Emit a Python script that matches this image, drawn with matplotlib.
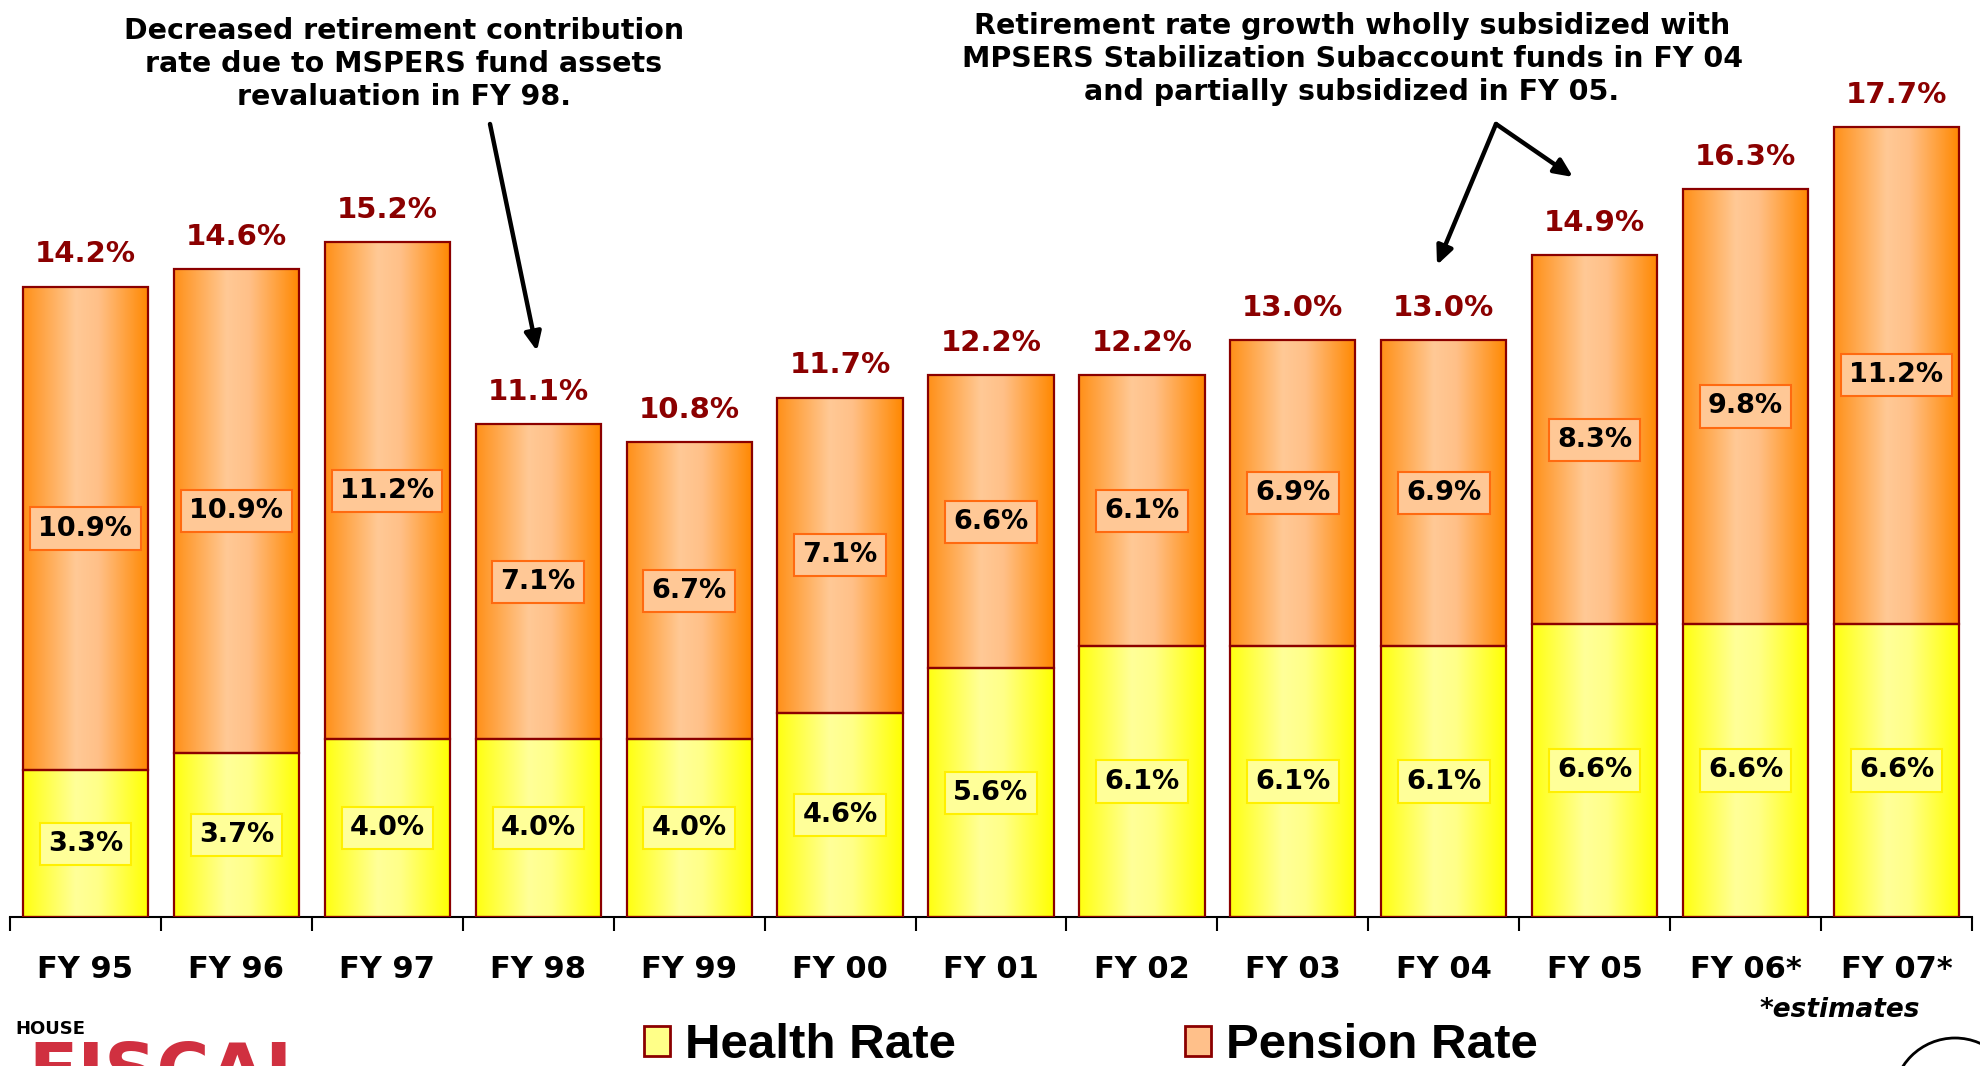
import numpy as np
import matplotlib
matplotlib.use("Agg")
import matplotlib.pyplot as plt
from matplotlib.colors import LinearSegmentedColormap
from matplotlib.patches import Patch, Circle

categories = ["FY 95", "FY 96", "FY 97", "FY 98", "FY 99", "FY 00", "FY 01",
              "FY 02", "FY 03", "FY 04", "FY 05", "FY 06*", "FY 07*"]
health = [3.3, 3.7, 4.0, 4.0, 4.0, 4.6, 5.6, 6.1, 6.1, 6.1, 6.6, 6.6, 6.6]
pension = [10.9, 10.9, 11.2, 7.1, 6.7, 7.1, 6.6, 6.1, 6.9, 6.9, 8.3, 9.8, 11.2]
totals = [14.2, 14.6, 15.2, 11.1, 10.8, 11.7, 12.2, 12.2, 13.0, 13.0, 14.9, 16.3, 17.7]

W, H = 1980, 1066
fig = plt.figure(figsize=(W / 100, H / 100), dpi=100)
ax = fig.add_axes([10 / W, 149 / H, 1962 / W, 888 / H])

x = np.arange(len(categories))
bw = 0.83
edge = "#8B0000"
bars_h = ax.bar(x, health, bw, facecolor="none", edgecolor=edge, lw=1.6, zorder=3)
bars_p = ax.bar(x, pension, bw, bottom=health, facecolor="none", edgecolor=edge, lw=1.6, zorder=3)

cm_p = LinearSegmentedColormap.from_list("p", [(0, "#FF9018"), (0.42, "#FFC996"), (0.6, "#FFC088"), (1, "#FF8800")])
cm_h = LinearSegmentedColormap.from_list("h", [(0, "#FFFF10"), (0.42, "#FFFF99"), (0.6, "#FFFF88"), (1, "#FFFF00")])
grad = np.linspace(0, 1, 256).reshape(1, -1)
for bars, cm in ((bars_h, cm_h), (bars_p, cm_p)):
    for r in bars:
        x0, y0, w, h = r.get_x(), r.get_y(), r.get_width(), r.get_height()
        ax.imshow(grad, cmap=cm, extent=[x0, x0 + w, y0, y0 + h], aspect="auto", zorder=2,
                  interpolation="bilinear")

ax.set_xlim(-0.5, len(categories) - 0.5)
ax.set_ylim(0, 20)

# segment labels
for i in range(len(categories)):
    ax.text(x[i], health[i] / 2, f"{health[i]:.1f}%", ha="center", va="center",
            fontsize=19.5, fontweight="bold", color="black", zorder=5,
            bbox=dict(boxstyle="square,pad=0.3", facecolor="#FFFF99", edgecolor="#FFF000", lw=1.5))
    ax.text(x[i], health[i] + pension[i] / 2, f"{pension[i]:.1f}%", ha="center", va="center",
            fontsize=19.5, fontweight="bold", color="black", zorder=5,
            bbox=dict(boxstyle="square,pad=0.3", facecolor="#FFC896", edgecolor="#FF6A10", lw=1.5))
    ax.annotate(f"{totals[i]:.1f}%", (x[i], health[i] + pension[i]), xytext=(0, 13),
                textcoords="offset points", ha="center", va="bottom",
                fontsize=21, fontweight="bold", color="#8B0000", zorder=5, annotation_clip=False)

# axes styling
for s in ("left", "right", "top"):
    ax.spines[s].set_visible(False)
ax.spines["bottom"].set_linewidth(1.5)
ax.set_yticks([])
ax.set_xticks(x)
ax.set_xticklabels(categories, fontsize=22, fontweight="bold")
ax.tick_params(axis="x", which="major", length=0, pad=27)
ax.set_xticks(np.arange(-0.5, len(categories), 1), minor=True)
ax.tick_params(axis="x", which="minor", length=10, width=1.5, direction="out")

# annotations
fig.text(404 / W, 1 - 64 / H, "Decreased retirement contribution\nrate due to MSPERS fund assets\nrevaluation in FY 98.",
         ha="center", va="center", fontsize=20.5, fontweight="bold", linespacing=1.22)
fig.text(1352 / W, 1 - 59 / H, "Retirement rate growth wholly subsidized with\nMPSERS Stabilization Subaccount funds in FY 04\nand partially subsidized in FY 05.",
         ha="center", va="center", fontsize=20.5, fontweight="bold", linespacing=1.22)

ap = dict(arrowstyle="-|>,head_length=1.1,head_width=0.5", color="black", lw=3.2, shrinkA=0, shrinkB=0)
ax.annotate("", xy=(537, H - 351), xycoords="figure pixels", xytext=(490, H - 124),
            textcoords="figure pixels", arrowprops=ap, annotation_clip=False)
ax.annotate("", xy=(1437, H - 265), xycoords="figure pixels", xytext=(1496, H - 124),
            textcoords="figure pixels", arrowprops=ap, annotation_clip=False)
ax.annotate("", xy=(1573, H - 177), xycoords="figure pixels", xytext=(1496, H - 124),
            textcoords="figure pixels", arrowprops=ap, annotation_clip=False)

fig.text(1840 / W, 1 - 1010 / H, "*estimates", ha="center", va="center",
         fontsize=19, fontstyle="italic", fontweight="bold")

# legend
handles = [Patch(facecolor="#FFFF88", edgecolor=edge, lw=2, label="Health Rate"),
           Patch(facecolor="#FFC08A", edgecolor=edge, lw=2, label="Pension Rate")]
fig.legend(handles=handles, loc="center left", bbox_to_anchor=(644 / W, 1 - 1046 / H), ncol=2,
           frameon=False, prop=dict(family=["Liberation Sans", "DejaVu Sans"], size=35.5, weight="bold"),
           handlelength=0.53, handleheight=0.58, handletextpad=0.3, columnspacing=4.65, borderaxespad=0, borderpad=0)

# logo-ish decoration
fig.text(15 / W, 1 - 1029 / H, "HOUSE", ha="left", va="center", fontsize=13, fontweight="bold")
fig.text(28 / W, 1 - 1040 / H, "FISCAL", ha="left", va="top", fontsize=52, fontweight="bold",
         color="#D03040")
fig.patches.append(Circle((1955, H - 1100), 62, transform=None, fill=False, edgecolor="black", lw=2))

fig.savefig("out.png", dpi=100)
